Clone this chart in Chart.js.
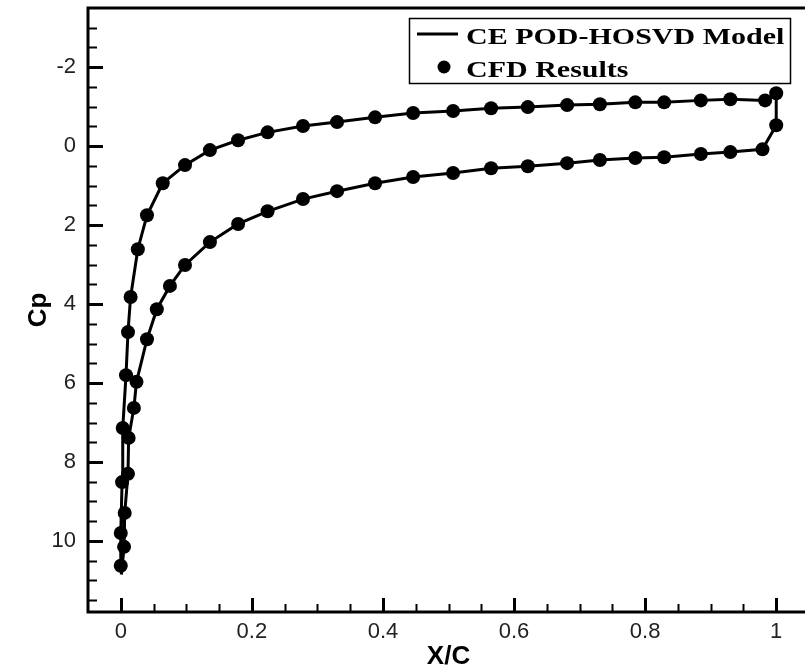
<!DOCTYPE html>
<html>
<head>
<meta charset="utf-8">
<script src="https://cdn.jsdelivr.net/npm/chart.js@4/dist/chart.umd.min.js"></script>
<style>
    html, body { margin: 0; padding: 0; background: #fff; overflow: hidden; }
    #grafico { display: block; }
</style>
</head>
<body>
<canvas id="grafico" width="809" height="669"></canvas>
<script>
// Cp sobre el perfil (eje Y invertido)

// extrados: desde el borde de ataque hasta el borde de salida
const extradosX  = [0.000, 0.000, 0.002, 0.003, 0.008, 0.011, 0.015, 0.026, 0.040, 0.064, 0.098, 0.136, 0.179, 0.224, 0.278, 0.330, 0.388, 0.446, 0.507, 0.565, 0.621, 0.681, 0.731, 0.785, 0.829, 0.885, 0.930, 0.983, 1.000];
const extradosCp = [10.63, 9.80, 8.51, 7.14, 5.80, 4.71, 3.82, 2.61, 1.75, 0.94, 0.48, 0.10, -0.15, -0.35, -0.51, -0.61, -0.73, -0.84, -0.89, -0.96, -0.99, -1.04, -1.06, -1.11, -1.11, -1.16, -1.19, -1.16, -1.34];

// punto intermedio del borde de salida
const bordeSalidaX  = [1.000];
const bordeSalidaCp = [-0.53];

// intrados: desde el borde de salida hasta el borde de ataque
const intradosX  = [0.979, 0.930, 0.885, 0.829, 0.785, 0.731, 0.681, 0.621, 0.565, 0.507, 0.446, 0.388, 0.330, 0.278, 0.224, 0.179, 0.136, 0.098, 0.075, 0.055, 0.040, 0.024, 0.020, 0.012, 0.011, 0.006, 0.005];
const intradosCp = [0.08, 0.15, 0.20, 0.28, 0.30, 0.35, 0.43, 0.51, 0.56, 0.68, 0.78, 0.94, 1.14, 1.34, 1.65, 1.97, 2.43, 3.01, 3.54, 4.13, 4.89, 5.97, 6.63, 7.39, 8.30, 9.29, 10.15];

// punto de estancamiento (solo la curva del modelo llega hasta aqui)
const estancamientoX  = [0.001];
const estancamientoCp = [10.85];

// marcas de los ejes
const etiquetasX = [0, 0.2, 0.4, 0.6, 0.8, 1];
const etiquetasY = [-2, 0, 2, 4, 6, 8, 10];
const pasoMenorX = 0.05;
const pasoMenorY = 0.5;

const etiquetasLeyenda = ['CE POD-HOSVD Model', 'CFD Results'];

function aPuntos(xs, ys) {
    return xs.map((x, i) => ({ x: x, y: ys[i] }));
}

const puntosCFD = [
    ...aPuntos(extradosX, extradosCp),
    ...aPuntos(bordeSalidaX, bordeSalidaCp),
    ...aPuntos(intradosX, intradosCp)
];
const puntosModelo = [
    ...aPuntos(estancamientoX, estancamientoCp),
    ...puntosCFD,
    ...aPuntos(estancamientoX, estancamientoCp)
];

// Marco, marcas interiores y leyenda al estilo Tecplot
const marcoYLeyenda = {
    id: 'marcoYLeyenda',
    afterDraw(chart) {
        const ctx = chart.ctx;
        const area = chart.chartArea;
        const ejeX = chart.scales.x;
        const ejeY = chart.scales.y;

        ctx.save();
        ctx.strokeStyle = '#000';

        // marcas menores y mayores del eje Y (hacia dentro)
        for (let v = ejeY.min; v <= ejeY.max + 1e-9; v += pasoMenorY) {
            const valor = Math.round(v * 100) / 100;
            if (valor === ejeY.min) continue;
            const mayor = etiquetasY.includes(valor);
            const py = Math.round(ejeY.getPixelForValue(valor)) + 0.5;
            ctx.lineWidth = mayor ? 3 : 2;
            ctx.beginPath();
            ctx.moveTo(area.left, py);
            ctx.lineTo(area.left + (mayor ? 15 : 9), py);
            ctx.stroke();
        }

        // marcas del eje X
        for (let v = 0; v <= ejeX.max + 1e-9; v += pasoMenorX) {
            const valor = Math.round(v * 100) / 100;
            const mayor = etiquetasX.includes(valor);
            const px = Math.round(ejeX.getPixelForValue(valor)) + 0.5;
            ctx.lineWidth = mayor ? 3 : 2;
            ctx.beginPath();
            ctx.moveTo(px, area.bottom);
            ctx.lineTo(px, area.bottom - (mayor ? 14 : 8));
            ctx.stroke();
        }

        // marco
        ctx.lineWidth = 3;
        ctx.strokeRect(area.left, area.top, area.right - area.left, area.bottom - area.top);

        // leyenda
        const caja = { x: 409.5, y: 18.5, w: 381, h: 65 };
        ctx.fillStyle = '#fff';
        ctx.fillRect(caja.x, caja.y, caja.w, caja.h);
        ctx.lineWidth = 1.5;
        ctx.strokeRect(caja.x, caja.y, caja.w, caja.h);

        ctx.lineWidth = 3;
        ctx.beginPath();
        ctx.moveTo(417, 34);
        ctx.lineTo(458, 34);
        ctx.stroke();

        ctx.fillStyle = '#000';
        ctx.beginPath();
        ctx.arc(444, 67, 6.5, 0, Math.PI * 2);
        ctx.fill();

        ctx.font = 'bold 24px "Liberation Serif", "Times New Roman", serif';
        ctx.textBaseline = 'alphabetic';
        const filas = [44, 77];
        etiquetasLeyenda.forEach((texto, i) => {
            ctx.save();
            ctx.translate(466, filas[i]);
            ctx.scale(1.25, 1);
            ctx.fillText(texto, 0, 0);
            ctx.restore();
        });

        ctx.restore();
    }
};

const config = {
    type: 'scatter',
    data: {
        datasets: [
            {
                label: etiquetasLeyenda[1],
                data: puntosCFD,
                showLine: false,
                pointRadius: 7,
                pointHoverRadius: 7,
                pointBackgroundColor: '#000',
                pointBorderColor: '#000',
                pointBorderWidth: 0,
                order: 0
            },
            {
                label: etiquetasLeyenda[0],
                data: puntosModelo,
                showLine: true,
                tension: 0,
                borderColor: '#000',
                borderWidth: 3,
                pointRadius: 0,
                order: 1
            }
        ]
    },
    options: {
        responsive: false,
        devicePixelRatio: 1,
        animation: false,
        layout: { autoPadding: false, padding: { top: 8, left: 0, right: 0, bottom: 0 } },
        plugins: {
            legend: { display: false },
            tooltip: { enabled: false }
        },
        scales: {
            x: {
                type: 'linear',
                min: -0.05,
                max: 1.05,
                grid: { display: false, drawTicks: false },
                border: { display: false },
                afterBuildTicks: function(eje) {
                    eje.ticks = etiquetasX.map(v => ({ value: v }));
                },
                afterFit: function(eje) {
                    eje.height = 57;
                    eje.paddingLeft = 0;
                    eje.paddingRight = 0;
                },
                ticks: {
                    padding: 7,
                    color: '#222',
                    font: { family: '"Liberation Sans", Arial, sans-serif', size: 22 },
                    callback: value => String(value)
                },
                title: {
                    display: true,
                    text: 'X/C',
                    color: '#000',
                    padding: { top: 0, bottom: -1 },
                    font: { family: '"Liberation Sans", Arial, sans-serif', size: 26, weight: 'bold', lineHeight: 1 }
                }
            },
            y: {
                type: 'linear',
                reverse: true,
                min: -3.5,
                max: 11.8,
                grid: { display: false, drawTicks: false },
                border: { display: false },
                afterBuildTicks: function(eje) {
                    eje.ticks = etiquetasY.map(v => ({ value: v }));
                },
                afterFit: function(eje) {
                    eje.width = 88;
                    eje.paddingTop = 0;
                    eje.paddingBottom = 0;
                },
                ticks: {
                    padding: 12,
                    color: '#222',
                    font: { family: '"Liberation Sans", Arial, sans-serif', size: 22 },
                    callback: value => String(value)
                },
                title: {
                    display: true,
                    text: 'Cp',
                    color: '#000',
                    padding: { top: 26, bottom: 0 },
                    font: { family: '"Liberation Sans", Arial, sans-serif', size: 26, weight: 'bold', lineHeight: 1 }
                }
            }
        }
    },
    plugins: [marcoYLeyenda]
};

new Chart(document.getElementById('grafico'), config);
</script>
</body>
</html>
